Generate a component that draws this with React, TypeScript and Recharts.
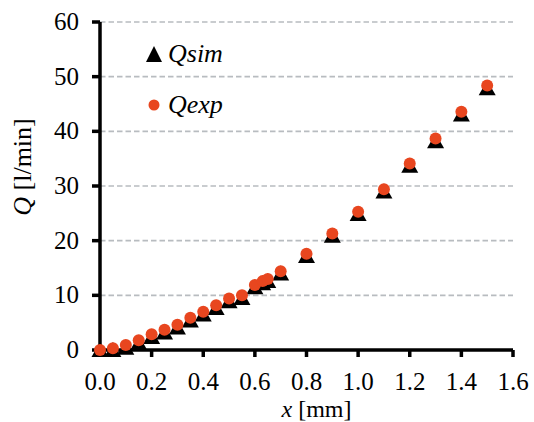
import { FC } from 'react';
import {
  CartesianGrid,
  Label,
  Legend,
  Scatter,
  ScatterChart,
  XAxis,
  YAxis,
} from 'recharts';

// opening x [mm]
const xPos = [
  0, 0.05, 0.1, 0.15, 0.2, 0.25, 0.3, 0.35, 0.4, 0.45, 0.5, 0.55, 0.6, 0.63,
  0.65, 0.7, 0.8, 0.9, 1.0, 1.1, 1.2, 1.3, 1.4, 1.5,
];
// simulated flow [l/min]
const qSim = [
  0, 0, 0.4, 1.3, 2.4, 3.2, 4.1, 5.4, 6.5, 7.7, 8.9, 9.5, 11.5, 12.2, 12.6,
  14.0, 17.2, 20.9, 24.9, 29.0, 33.7, 38.2, 43.1, 47.9,
];
// measured flow [l/min]
const qExp = [
  0, 0.3, 0.9, 1.8, 2.9, 3.7, 4.6, 5.9, 7.0, 8.2, 9.4, 10.0, 11.9, 12.6, 13.0,
  14.4, 17.6, 21.3, 25.3, 29.4, 34.1, 38.7, 43.6, 48.4,
];
const xTicks = [0, 0.2, 0.4, 0.6, 0.8, 1.0, 1.2, 1.4, 1.6];
const yTicks = [0, 10, 20, 30, 40, 50, 60];

const simData = xPos.map((x, i) => ({ x, q: qSim[i] }));
const expData = xPos.map((x, i) => ({ x, q: qExp[i] }));

const FONT = "'Liberation Serif', 'Times New Roman', Times, serif";
const RED = '#E8461F';
const txt = { fontFamily: FONT, fontSize: 25 };

const Triangle = (props: any) => {
  const { cx, cy } = props;
  return (
    <polygon
      points={`${cx},${cy - 8} ${cx + 8.5},${cy + 7} ${cx - 8.5},${cy + 7}`}
      fill="#000"
    />
  );
};

const Dot = (props: any) => {
  const { cx, cy } = props;
  return <circle cx={cx} cy={cy} r={6} fill={RED} />;
};

const XTick = (props: any) => {
  const { x, payload } = props;
  return (
    <text x={x} y={390} textAnchor="middle" style={txt} fill="#000">
      {Number(payload.value).toFixed(1)}
    </text>
  );
};

const YTick = (props: any) => {
  const { x, y, payload } = props;
  return (
    <text x={x} y={y + 8} textAnchor="end" style={txt} fill="#000">
      {payload.value}
    </text>
  );
};

const LegendBox = () => (
  <div style={{ fontFamily: FONT, fontSize: 26, fontStyle: 'italic' }}>
    <div style={{ display: 'flex', alignItems: 'center', height: 30 }}>
      <svg width={22} height={18}>
        <polygon points="8,1 16,17 0,17" fill="#000" />
      </svg>
      <span>Qsim</span>
    </div>
    <div
      style={{ display: 'flex', alignItems: 'center', height: 30, marginTop: 21 }}
    >
      <svg width={22} height={18}>
        <circle cx={8} cy={9} r={5.5} fill={RED} />
      </svg>
      <span>Qexp</span>
    </div>
  </div>
);

const App: FC = () => {
  return (
    <div style={{ position: 'absolute', left: 0, top: 0, fontFamily: FONT }}>
      <ScatterChart
        width={534}
        height={422}
        margin={{ top: 22, right: 21, bottom: 0, left: 0 }}
        style={{ fontFamily: FONT }}
      >
        <CartesianGrid
          horizontal
          vertical={false}
          stroke="#B8BCC0"
          strokeWidth={1.7}
          strokeDasharray="5.5 3"
        />
        <XAxis
          type="number"
          dataKey="x"
          domain={[0, 1.6]}
          ticks={xTicks}
          height={72}
          stroke="#000"
          strokeWidth={3.5}
          tickSize={7}
          tickMargin={4}
          tick={XTick}
        >
          <Label
            content={({ viewBox }: any) => (
              <text
                x={viewBox.x + viewBox.width / 2 + 10}
                y={417}
                textAnchor="middle"
                style={{ ...txt, fontSize: 24 }}
                fill="#000"
              >
                <tspan fontStyle="italic">x</tspan>
                <tspan> [mm]</tspan>
              </text>
            )}
          />
        </XAxis>
        <YAxis
          type="number"
          dataKey="q"
          domain={[0, 60]}
          ticks={yTicks}
          width={100}
          stroke="#000"
          strokeWidth={3.5}
          tickSize={8}
          tickMargin={13}
          tick={YTick}
        >
          <Label
            content={() => (
              <text
                transform="translate(31,167) rotate(-90)"
                textAnchor="middle"
                style={{ ...txt, fontSize: 26 }}
                fill="#000"
              >
                <tspan fontStyle="italic">Q</tspan>
                <tspan> [l/min]</tspan>
              </text>
            )}
          />
        </YAxis>
        <Legend
          layout="vertical"
          verticalAlign="middle"
          align="center"
          content={LegendBox}
          wrapperStyle={{ left: 146, top: 39, width: 130 }}
        />
        <Scatter
          name="Qsim"
          data={simData}
          shape={Triangle}
          isAnimationActive={false}
        />
        <Scatter
          name="Qexp"
          data={expData}
          shape={Dot}
          isAnimationActive={false}
        />
      </ScatterChart>
    </div>
  );
};

export default App;
